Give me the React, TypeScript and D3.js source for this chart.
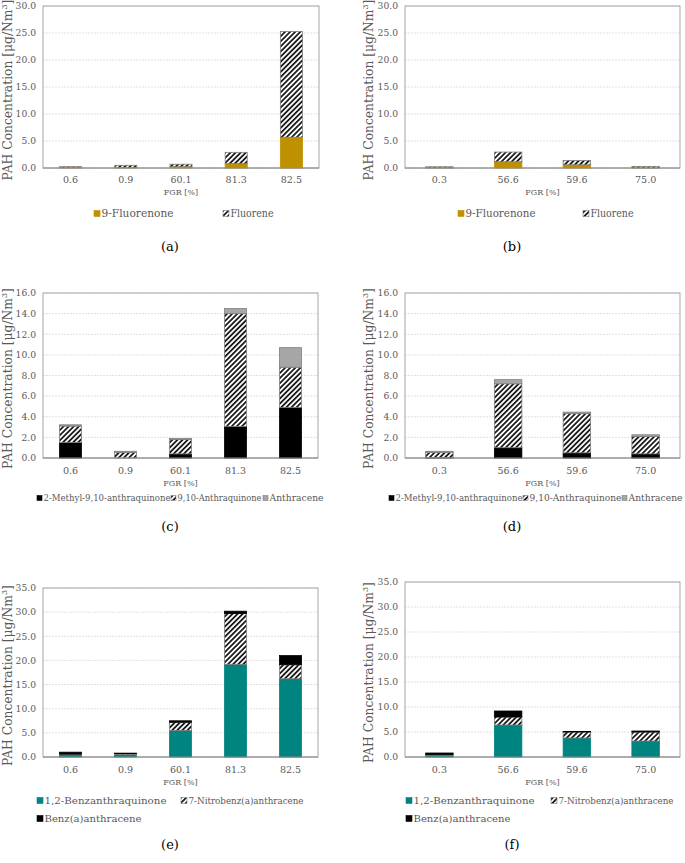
import React from "react";
import * as d3 from "d3";

// ---------- data ----------
const CAT_LEFT = ["0.6", "0.9", "60.1", "81.3", "82.5"];
const CAT_RIGHT = ["0.3", "56.6", "59.6", "75.0"];

const FLUORENONE_A = [0.05, 0.05, 0.25, 0.8, 5.7];
const FLUORENE_A = [0.2, 0.45, 0.45, 2.1, 19.6];
const FLUORENONE_B = [0.03, 1.15, 0.6, 0.02];
const FLUORENE_B = [0.2, 1.8, 0.8, 0.28];

const MAQ_C = [1.5, 0.0, 0.4, 3.05, 4.9];
const AQ_C = [1.6, 0.55, 1.4, 10.95, 3.9];
const ANT_C = [0.12, 0.1, 0.1, 0.5, 1.9];
const MAQ_D = [0.05, 1.0, 0.5, 0.4];
const AQ_D = [0.5, 6.2, 3.8, 1.7];
const ANT_D = [0.1, 0.4, 0.15, 0.15];

const BAQ_E = [0.5, 0.5, 5.5, 19.2, 16.2];
const NBA_E = [0.1, 0.2, 1.7, 10.5, 2.9];
const BAA_E = [0.4, 0.1, 0.3, 0.5, 1.9];
const BAQ_F = [0.4, 6.4, 3.8, 3.2];
const NBA_F = [0.1, 1.6, 1.2, 1.8];
const BAA_F = [0.3, 1.2, 0.1, 0.2];

const TICKS_30 = [0, 5, 10, 15, 20, 25, 30];
const TICKS_16 = [0, 2, 4, 6, 8, 10, 12, 14, 16];
const TICKS_35 = [0, 5, 10, 15, 20, 25, 30, 35];

// ---------- styles ----------
const FONT = "DejaVu Serif";
const TXT = "#595959";
const GOLD = "#BF9000";
const TEAL = "#00847F";
const BLACK = "#000000";
const GREY = "#A6A6A6";
const HATCH = "url(#hatch)";

type Series = { name: string; values: number[]; fill: string; stroke: string };
type LegendItem = { x: number; idx: number; w: number; fs?: number };
type PanelCfg = {
  left: number; right: number; top: number; bottom: number;
  cats: string[]; ticks: number[]; series: Series[];
  ylabelX: number; catY: number; fgrY: number;
  legendRows: { y: number; items: LegendItem[] }[];
  legendSize: number;
  caption: string; capX: number; capY: number;
};

function Panel({ cfg }: { cfg: PanelCfg }) {
  const { left, right, top, bottom, cats, ticks, series } = cfg;
  const x = d3.scaleBand<string>().domain(cats).range([left, right]).paddingInner(0.6).paddingOuter(0.3);
  const y = d3.scaleLinear().domain([0, ticks[ticks.length - 1]]).range([bottom, top]);
  const stack = d3.stack<number>().keys(series.map((_, i) => String(i))).value((d, k) => series[+k].values[d]);
  const stacked = stack(cats.map((_, i) => i));
  const fmt = d3.format(".1f");
  const ymid = (top + bottom) / 2 + 3;
  return (
    <g style={{ fontFamily: FONT }}>
      {ticks.map((t) => (
        <line key={"g" + t} x1={left} x2={right} y1={y(t)} y2={y(t)} stroke="#D9D9D9" strokeWidth={0.8} strokeDasharray="2,1" />
      ))}
      <rect x={left} y={top} width={right - left} height={bottom - top} fill="none" stroke="#A6A6A6" strokeWidth={1} />
      {ticks.map((t) => (
        <text key={"t" + t} x={left - 7} y={y(t) + 3.3} textAnchor="end" fontSize={9.2} fill={TXT}>{fmt(t)}</text>
      ))}
      {stacked.map((layer, si) => (
        <g key={"s" + si}>
          {layer.map((d, ci) => {
            const h = y(d[0]) - y(d[1]);
            if (h <= 0) return null;
            return (
              <rect key={ci} x={x(cats[ci])} y={y(d[1])} width={x.bandwidth()} height={h}
                fill={series[si].fill} stroke={series[si].stroke} strokeWidth={0.8} />
            );
          })}
        </g>
      ))}
      <line x1={left} x2={right} y1={bottom} y2={bottom} stroke="#8C8C8C" strokeWidth={1} />
      {cats.map((c) => (
        <text key={"c" + c} x={(x(c) as number) + x.bandwidth() / 2} y={cfg.catY} textAnchor="middle" fontSize={9.5} fill={TXT}>{c}</text>
      ))}
      <text x={(left + right) / 2} y={cfg.fgrY} textAnchor="middle" fontSize={8} fill={TXT}>FGR [%]</text>
      <text transform={`translate(${cfg.ylabelX},${ymid}) rotate(-90)`} textAnchor="middle" fontSize={12.3} fill={TXT}>
        PAH Concentration [μg/Nm<tspan fontSize={8} dy={-5}>3</tspan><tspan dy={5}>]</tspan>
      </text>
      {cfg.legendRows.map((row, ri) => (
        <g key={"l" + ri}>
          {row.items.map((it) => {
            const s = series[it.idx];
            const sq = cfg.legendSize < 9.5 ? 5 : 6;
            return (
              <g key={it.idx}>
                <rect x={it.x} y={row.y - sq - 0.5} width={sq} height={sq} fill={s.fill} stroke={s.stroke} strokeWidth={0.6} />
                <text x={it.x + sq + 1.5} y={row.y} fontSize={it.fs ?? cfg.legendSize} fill={TXT}
                  textLength={it.w} lengthAdjust="spacingAndGlyphs">{s.name}</text>
              </g>
            );
          })}
        </g>
      ))}
      <text x={cfg.capX} y={cfg.capY} textAnchor="middle" fontSize={13} fill="#000">{cfg.caption}</text>
    </g>
  );
}

const fluorSeries = (a: number[], b: number[]): Series[] => [
  { name: "9-Fluorenone", values: a, fill: GOLD, stroke: GOLD },
  { name: "Fluorene", values: b, fill: HATCH, stroke: "#7F7F7F" },
];
const anthSeries = (a: number[], b: number[], c: number[]): Series[] => [
  { name: "2-Methyl-9,10-anthraquinone", values: a, fill: BLACK, stroke: BLACK },
  { name: "9,10-Anthraquinone", values: b, fill: HATCH, stroke: "#7F7F7F" },
  { name: "Anthracene", values: c, fill: GREY, stroke: "#7F7F7F" },
];
const benzSeries = (a: number[], b: number[], c: number[]): Series[] => [
  { name: "1,2-Benzanthraquinone", values: a, fill: TEAL, stroke: TEAL },
  { name: "7-Nitrobenz(a)anthracene", values: b, fill: HATCH, stroke: "#7F7F7F" },
  { name: "Benz(a)anthracene", values: c, fill: BLACK, stroke: BLACK },
];

const PANELS: PanelCfg[] = [
  {
    left: 43, right: 319, top: 6, bottom: 168, cats: CAT_LEFT, ticks: TICKS_30,
    series: fluorSeries(FLUORENONE_A, FLUORENE_A), ylabelX: 12, catY: 183, fgrY: 195,
    legendRows: [{ y: 217, items: [{ x: 94, idx: 0, w: 72 }, { x: 223, idx: 1, w: 43 }] }], legendSize: 10.3,
    caption: "(a)", capX: 170, capY: 251,
  },
  {
    left: 405, right: 680, top: 6, bottom: 168, cats: CAT_RIGHT, ticks: TICKS_30,
    series: fluorSeries(FLUORENONE_B, FLUORENE_B), ylabelX: 373, catY: 183, fgrY: 195,
    legendRows: [{ y: 217, items: [{ x: 458, idx: 0, w: 70 }, { x: 583, idx: 1, w: 43 }] }], legendSize: 10.3,
    caption: "(b)", capX: 512, capY: 251,
  },
  {
    left: 43, right: 318, top: 293, bottom: 458, cats: CAT_LEFT, ticks: TICKS_16,
    series: anthSeries(MAQ_C, AQ_C, ANT_C), ylabelX: 12, catY: 474, fgrY: 486,
    legendRows: [{ y: 501, items: [{ x: 37, idx: 0, w: 127 }, { x: 171, idx: 1, w: 84 }, { x: 263, idx: 2, w: 54 }] }], legendSize: 8.3,
    caption: "(c)", capX: 170, capY: 531,
  },
  {
    left: 405, right: 680, top: 293, bottom: 458, cats: CAT_RIGHT, ticks: TICKS_16,
    series: anthSeries(MAQ_D, AQ_D, ANT_D), ylabelX: 373, catY: 474, fgrY: 486,
    legendRows: [{ y: 501, items: [{ x: 389, idx: 0, w: 127 }, { x: 523, idx: 1, w: 92 }, { x: 622, idx: 2, w: 54 }] }], legendSize: 8.3,
    caption: "(d)", capX: 512, capY: 531,
  },
  {
    left: 43, right: 318, top: 588, bottom: 757, cats: CAT_LEFT, ticks: TICKS_35,
    series: benzSeries(BAQ_E, NBA_E, BAA_E), ylabelX: 12, catY: 773, fgrY: 785,
    legendRows: [
      { y: 804, items: [{ x: 37, idx: 0, w: 122 }, { x: 181, idx: 1, w: 115, fs: 8.9 }] },
      { y: 822, items: [{ x: 37, idx: 2, w: 97 }] },
    ], legendSize: 9.8,
    caption: "(e)", capX: 170, capY: 849,
  },
  {
    left: 405, right: 680, top: 582, bottom: 757, cats: CAT_RIGHT, ticks: TICKS_35,
    series: benzSeries(BAQ_F, NBA_F, BAA_F), ylabelX: 373, catY: 773, fgrY: 785,
    legendRows: [
      { y: 804, items: [{ x: 406, idx: 0, w: 121 }, { x: 551, idx: 1, w: 115, fs: 8.9 }] },
      { y: 822, items: [{ x: 406, idx: 2, w: 97 }] },
    ], legendSize: 9.8,
    caption: "(f)", capX: 512, capY: 849,
  },
];

export default function App() {
  return (
    <svg width={685} height={863} style={{ position: "absolute", left: 0, top: 0, background: "#fff" }}>
      <defs>
        <pattern id="hatch" patternUnits="userSpaceOnUse" width={3.6} height={3.6} patternTransform="rotate(45)">
          <rect x={0} y={0} width={3.6} height={3.6} fill="#fff" />
          <line x1={0.9} y1={0} x2={0.9} y2={3.6} stroke="#000" strokeWidth={1.6} />
        </pattern>
      </defs>
      <rect x={0} y={0} width={685} height={863} fill="#fff" />
      {PANELS.map((p, i) => (
        <Panel key={i} cfg={p} />
      ))}
    </svg>
  );
}
